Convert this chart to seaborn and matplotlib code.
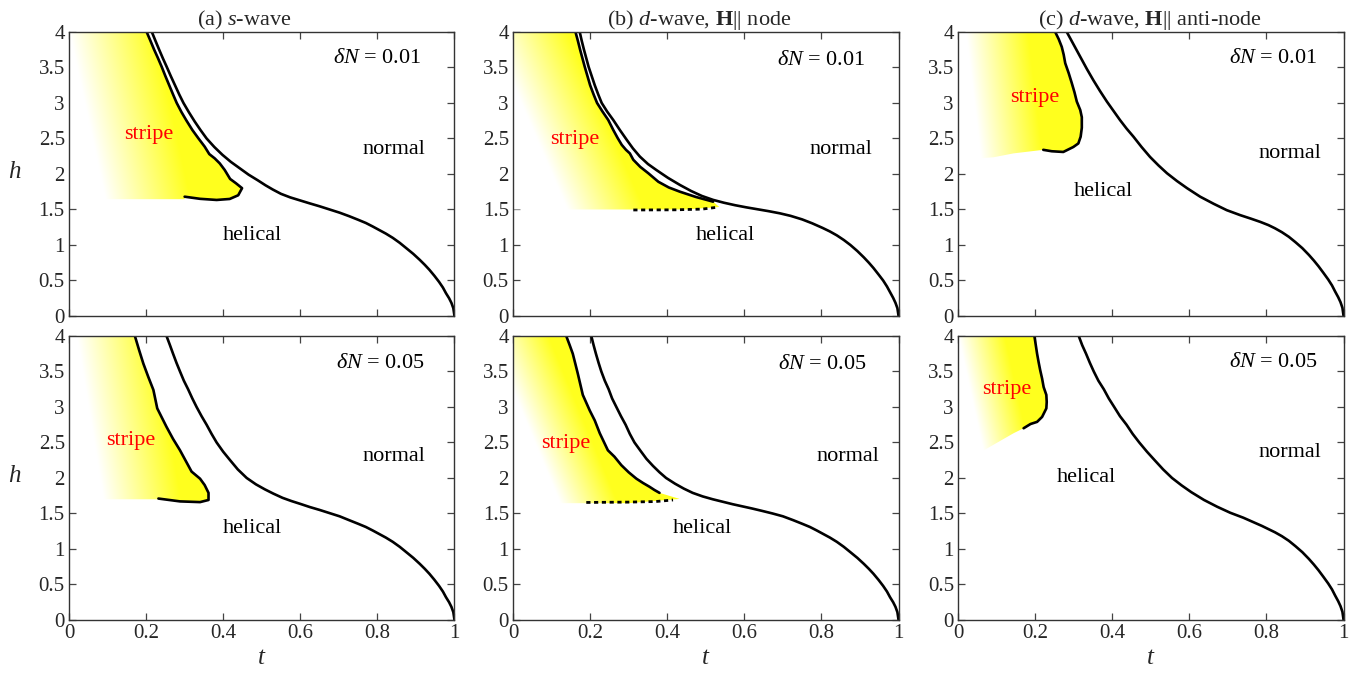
import numpy as np
import matplotlib
matplotlib.use("Agg")
import matplotlib.pyplot as plt
from matplotlib.patches import Polygon
import seaborn as sns

sns.set_theme(style="ticks")
plt.rcParams["font.family"] = ["Liberation Serif", "DejaVu Serif"]
plt.rcParams["mathtext.fontset"] = "custom"
plt.rcParams["mathtext.rm"] = "Liberation Serif"
plt.rcParams["mathtext.it"] = "Liberation Serif:italic"
plt.rcParams["mathtext.bf"] = "Liberation Serif:bold"

# ---------------- phase boundaries (t = T/Tc, h = normalised field) ----------------
# low-field part of the helical/normal line
ab_tail_t = [0.727, 0.750, 0.770, 0.788, 0.805, 0.822, 0.840, 0.858, 0.875, 0.893, 0.910,
             0.923, 0.935, 0.948, 0.960, 0.970, 0.978, 0.986, 0.992, 0.997, 1.0]
ab_tail_h = [1.405, 1.355, 1.31, 1.26, 1.21, 1.16, 1.10, 1.03, 0.955, 0.875, 0.79,
             0.72, 0.65, 0.565, 0.48, 0.40, 0.32, 0.25, 0.185, 0.11, 0.0]
b_tail_t = [0.720, 0.750, 0.776, 0.803, 0.822, 0.840, 0.858, 0.875, 0.893, 0.910, 0.923,
            0.935, 0.948, 0.960, 0.970, 0.978, 0.986, 0.992, 0.997, 1.0]
b_tail_h = [1.41, 1.36, 1.305, 1.24, 1.19, 1.135, 1.07, 1.0, 0.915, 0.825, 0.75,
            0.675, 0.585, 0.50, 0.415, 0.335, 0.255, 0.185, 0.11, 0.0]
c_tail_t = [0.805, 0.822, 0.840, 0.858, 0.875, 0.893, 0.910, 0.923, 0.935, 0.948, 0.960,
            0.970, 0.978, 0.986, 0.992, 0.997, 1.0]
c_tail_h = [1.28, 1.235, 1.18, 1.115, 1.04, 0.955, 0.86, 0.78, 0.70, 0.605, 0.515,
            0.43, 0.345, 0.265, 0.195, 0.115, 0.0]

# (a) s-wave, dN = 0.01
a1_normal_t = [0.215, 0.224, 0.234, 0.2435, 0.2535, 0.264, 0.275, 0.286, 0.297, 0.311, 0.326,
               0.341, 0.357, 0.377, 0.398, 0.420, 0.443, 0.466, 0.490, 0.510, 0.529, 0.550,
               0.574, 0.598, 0.625, 0.650, 0.676, 0.702] + ab_tail_t
a1_normal_h = [4.00, 3.88, 3.75, 3.63, 3.51, 3.38, 3.25, 3.12, 3.00, 2.87, 2.74,
               2.62, 2.50, 2.38, 2.27, 2.17, 2.08, 1.99, 1.91, 1.84, 1.78, 1.72,
               1.67, 1.63, 1.585, 1.545, 1.50, 1.455] + ab_tail_h
a1_stripe_t = [0.2016, 0.211, 0.221, 0.231, 0.2405, 0.250, 0.260, 0.270, 0.2795, 0.292, 0.305,
               0.320, 0.336, 0.352, 0.364, 0.378, 0.391, 0.404, 0.418, 0.433, 0.449, 0.439,
               0.417, 0.383, 0.340, 0.300]
a1_stripe_h = [4.0, 3.88, 3.75, 3.63, 3.51, 3.38, 3.25, 3.12, 3.0, 2.87, 2.75,
               2.62, 2.50, 2.385, 2.28, 2.22, 2.15, 2.056, 1.93, 1.87, 1.80, 1.70,
               1.648, 1.634, 1.65, 1.68]
a1_edge_t = [0.300, 0.0]
a1_edge_h = [1.645, 1.645]

# (a) s-wave, dN = 0.05
a5_normal_t = [0.253, 0.262, 0.270, 0.279, 0.288, 0.298, 0.309, 0.320, 0.331, 0.344, 0.357,
               0.370, 0.383, 0.400, 0.418, 0.438, 0.461, 0.485, 0.508, 0.530, 0.554, 0.577,
               0.600, 0.625, 0.650, 0.676, 0.702] + ab_tail_t
a5_normal_h = [4.00, 3.87, 3.75, 3.62, 3.50, 3.37, 3.25, 3.12, 3.00, 2.87, 2.75,
               2.62, 2.50, 2.37, 2.25, 2.12, 2.00, 1.91, 1.84, 1.78, 1.72, 1.675,
               1.635, 1.59, 1.55, 1.505, 1.46] + ab_tail_h
a5_stripe_t = [0.171, 0.182, 0.193, 0.206, 0.219, 0.224, 0.229, 0.241, 0.253, 0.270, 0.288,
               0.303, 0.318, 0.340, 0.352, 0.362, 0.362, 0.340, 0.288, 0.232]
a5_stripe_h = [4.0, 3.80, 3.61, 3.42, 3.24, 3.11, 2.98, 2.85, 2.72, 2.55, 2.39,
               2.24, 2.09, 1.99, 1.90, 1.79, 1.69, 1.66, 1.67, 1.71]
a5_edge_t = [0.232, 0.0]
a5_edge_h = [1.70, 1.70]

# (b) d-wave, H || node, dN = 0.01
b1_normal_t = [0.173, 0.178, 0.184, 0.190, 0.196, 0.204, 0.212, 0.221, 0.230, 0.244, 0.260,
               0.277, 0.295, 0.311, 0.329, 0.350, 0.372, 0.402, 0.433, 0.462, 0.490, 0.519,
               0.547, 0.576, 0.605, 0.634, 0.663, 0.692] + b_tail_t
b1_normal_h = [4.00, 3.88, 3.75, 3.63, 3.51, 3.38, 3.25, 3.12, 3.00, 2.88, 2.76,
               2.62, 2.48, 2.36, 2.245, 2.14, 2.055, 1.945, 1.845, 1.76, 1.69, 1.635,
               1.595, 1.56, 1.53, 1.503, 1.476, 1.446] + b_tail_h
b1_stripe_t = [0.162, 0.168, 0.174, 0.180, 0.186, 0.193, 0.200, 0.209, 0.218, 0.232, 0.247,
               0.260, 0.271, 0.282, 0.293, 0.303, 0.312, 0.330, 0.351, 0.377, 0.404, 0.433,
               0.475, 0.519]
b1_stripe_h = [4.00, 3.88, 3.75, 3.63, 3.51, 3.38, 3.25, 3.12, 3.00, 2.88, 2.76,
               2.62, 2.51, 2.41, 2.34, 2.29, 2.20, 2.10, 2.01, 1.89, 1.81, 1.75,
               1.675, 1.61]
b1_lower_t = [0.312, 0.420, 0.490, 0.528]
b1_lower_h = [1.493, 1.495, 1.505, 1.530]
b1_edge_t = [0.535, 0.450, 0.0]
b1_edge_h = [1.535, 1.500, 1.500]

# (b) d-wave, H || node, dN = 0.05
b5_normal_t = [0.203, 0.209, 0.215, 0.222, 0.229, 0.238, 0.248, 0.257, 0.268, 0.280, 0.292,
               0.303, 0.315, 0.331, 0.346, 0.363, 0.380, 0.397, 0.420, 0.443, 0.466, 0.492,
               0.518, 0.544, 0.570, 0.595, 0.620, 0.647, 0.673, 0.700] + ab_tail_t
b5_normal_h = [4.00, 3.87, 3.75, 3.62, 3.50, 3.37, 3.25, 3.12, 3.00, 2.87, 2.75,
               2.62, 2.50, 2.38, 2.27, 2.17, 2.08, 2.00, 1.92, 1.85, 1.79, 1.74,
               1.70, 1.665, 1.63, 1.60, 1.57, 1.535, 1.50, 1.46] + ab_tail_h
b5_stripe_t = [0.138, 0.147, 0.155, 0.162, 0.168, 0.181, 0.199, 0.212, 0.225, 0.246, 0.263,
               0.281, 0.300, 0.320, 0.337, 0.354, 0.367, 0.380]
b5_stripe_h = [4.0, 3.87, 3.75, 3.60, 3.47, 3.17, 2.95, 2.81, 2.63, 2.39, 2.30,
               2.18, 2.08, 1.99, 1.93, 1.876, 1.83, 1.79]
b5_lower_t = [0.190, 0.300, 0.370, 0.415]
b5_lower_h = [1.655, 1.660, 1.668, 1.690]
b5_edge_t = [0.432, 0.300, 0.0]
b5_edge_h = [1.705, 1.645, 1.645]

# (c) d-wave, H || anti-node, dN = 0.01
c1_normal_t = [0.282, 0.300, 0.317, 0.334, 0.351, 0.368, 0.386, 0.403, 0.420, 0.437, 0.455,
               0.476, 0.498, 0.520, 0.542, 0.568, 0.594, 0.628, 0.663, 0.697, 0.732, 0.760,
               0.784] + c_tail_t
c1_normal_h = [4.00, 3.82, 3.65, 3.48, 3.32, 3.17, 3.02, 2.89, 2.76, 2.64, 2.525,
               2.38, 2.24, 2.12, 2.01, 1.90, 1.80, 1.68, 1.58, 1.49, 1.42, 1.37,
               1.325] + c_tail_h
c1_stripe_t = [0.252, 0.261, 0.269, 0.274, 0.278, 0.287, 0.295, 0.302, 0.308, 0.317, 0.321,
               0.321, 0.318, 0.312, 0.299, 0.273, 0.243, 0.221]
c1_stripe_h = [4.0, 3.90, 3.79, 3.68, 3.56, 3.42, 3.28, 3.15, 3.02, 2.90, 2.80,
               2.65, 2.525, 2.43, 2.38, 2.31, 2.32, 2.34]
c1_edge_t = [0.144, 0.092, 0.0]
c1_edge_h = [2.29, 2.235, 2.20]

# (c) d-wave, H || anti-node, dN = 0.05
c5_normal_t = [0.313, 0.322, 0.332, 0.342, 0.352, 0.364, 0.378, 0.391, 0.405, 0.420, 0.437,
               0.453, 0.470, 0.490, 0.510, 0.532, 0.555, 0.580, 0.605, 0.638, 0.672, 0.706,
               0.740, 0.765, 0.788] + c_tail_t
c5_normal_h = [4.00, 3.87, 3.75, 3.62, 3.50, 3.37, 3.25, 3.12, 3.00, 2.87, 2.75,
               2.62, 2.50, 2.37, 2.25, 2.12, 2.00, 1.895, 1.80, 1.69, 1.595, 1.51,
               1.44, 1.38, 1.325] + c_tail_h
c5_stripe_t = [0.198, 0.205, 0.209, 0.213, 0.218, 0.222, 0.229, 0.230, 0.229, 0.218, 0.205,
               0.188, 0.170]
c5_stripe_h = [4.0, 3.75, 3.63, 3.52, 3.40, 3.28, 3.17, 3.07, 2.98, 2.86, 2.79,
               2.76, 2.70]
c5_edge_t = [0.144, 0.067, 0.0]
c5_edge_h = [2.63, 2.39, 2.33]

titles = [r"(a) $s$-wave", r"(b) $d$-wave, $\mathbf{H}$|| node",
          r"(c) $d$-wave, $\mathbf{H}$|| anti-node"]
dn_labels = [r"$\delta N$ = 0.01", r"$\delta N$ = 0.05"]
x_ticks = [0, 0.2, 0.4, 0.6, 0.8, 1]
x_ticklabels = ["0", "0.2", "0.4", "0.6", "0.8", "1"]
y_ticks = [0, 0.5, 1, 1.5, 2, 2.5, 3, 3.5, 4]
y_ticklabels = ["0", "0.5", "1", "1.5", "2", "2.5", "3", "3.5", "4"]

panels = {
    (0, 0): dict(nt=a1_normal_t, nh=a1_normal_h, st=a1_stripe_t, sh=a1_stripe_h,
                 et=a1_edge_t, eh=a1_edge_h, lt=None, lh=None),
    (1, 0): dict(nt=a5_normal_t, nh=a5_normal_h, st=a5_stripe_t, sh=a5_stripe_h,
                 et=a5_edge_t, eh=a5_edge_h, lt=None, lh=None),
    (0, 1): dict(nt=b1_normal_t, nh=b1_normal_h, st=b1_stripe_t, sh=b1_stripe_h,
                 et=b1_edge_t, eh=b1_edge_h, lt=b1_lower_t, lh=b1_lower_h),
    (1, 1): dict(nt=b5_normal_t, nh=b5_normal_h, st=b5_stripe_t, sh=b5_stripe_h,
                 et=b5_edge_t, eh=b5_edge_h, lt=b5_lower_t, lh=b5_lower_h),
    (0, 2): dict(nt=c1_normal_t, nh=c1_normal_h, st=c1_stripe_t, sh=c1_stripe_h,
                 et=c1_edge_t, eh=c1_edge_h, lt=None, lh=None),
    (1, 2): dict(nt=c5_normal_t, nh=c5_normal_h, st=c5_stripe_t, sh=c5_stripe_h,
                 et=c5_edge_t, eh=c5_edge_h, lt=None, lh=None),
}

# shading ramp of the stripe region: (white edge at top, slant, ramp width)
shade = {(0, 0): (0.00, 0.040, 0.22), (1, 0): (0.02, 0.030, 0.20),
         (0, 1): (-0.06, 0.080, 0.20), (1, 1): (-0.06, 0.077, 0.15),
         (0, 2): (0.02, 0.022, 0.16), (1, 2): (0.00, 0.040, 0.12)}

# label anchors (t, h): stripe, normal, helical, dN
label_pos = {
    (0, 0): [(0.207, 2.55), (0.843, 2.35), (0.475, 1.13), (0.80, 3.63)],
    (1, 0): [(0.161, 2.53), (0.844, 2.30), (0.476, 1.29), (0.807, 3.61)],
    (0, 1): [(0.160, 2.48), (0.850, 2.35), (0.550, 1.13), (0.800, 3.60)],
    (1, 1): [(0.136, 2.49), (0.868, 2.30), (0.490, 1.29), (0.803, 3.60)],
    (0, 2): [(0.199, 3.08), (0.862, 2.29), (0.376, 1.75), (0.818, 3.63)],
    (1, 2): [(0.127, 3.24), (0.862, 2.36), (0.332, 2.00), (0.817, 3.62)],
}
title_x = [0.454, 0.482, 0.498]

col_left = [0.0503, 0.3742, 0.6988]
row_bottom = [0.5305, 0.0788]
ax_w, ax_h = 0.2812, 0.422

yellow = np.array([1.0, 1.0, 0.12])
white = np.array([1.0, 1.0, 1.0])
tg, hg = np.meshgrid(np.linspace(0, 1, 500), np.linspace(0, 4, 500))

fig = plt.figure(figsize=(13.71, 6.73), dpi=100)
FS = 16

for (r, c), p in panels.items():
    ax = fig.add_axes([col_left[c], row_bottom[r], ax_w, ax_h])
    ax.set_xlim(0, 1)
    ax.set_ylim(0, 4)

    # gradient shading of the stripe phase, clipped to its boundary
    t0, k, w = shade[(r, c)]
    g = np.clip((tg - (t0 + k * (4 - hg))) / w, 0, 1)[..., None]
    rgb = white * (1 - g) + yellow * g
    img = ax.imshow(rgb, extent=[0, 1, 0, 4], origin="lower", aspect="auto",
                    interpolation="bilinear", zorder=1)
    verts = [(0, 4)] + list(zip(p["st"], p["sh"])) + list(zip(p["et"], p["eh"]))
    clip = Polygon(verts, closed=True, transform=ax.transData)
    img.set_clip_path(clip)

    sns.lineplot(x=p["nt"], y=p["nh"], ax=ax, sort=False, estimator=None,
                 color="black", linewidth=1.9, zorder=3)
    sns.lineplot(x=p["st"], y=p["sh"], ax=ax, sort=False, estimator=None,
                 color="black", linewidth=1.9, zorder=3)
    if p["lt"] is not None:
        sns.lineplot(x=p["lt"], y=p["lh"], ax=ax, sort=False, estimator=None,
                     color="black", linewidth=2.0, linestyle=(0, (1.5, 1.3)), zorder=3)

    pos = label_pos[(r, c)]
    ax.text(*pos[0], "stripe", color="red", ha="center", va="center", fontsize=FS, zorder=4)
    ax.text(*pos[1], "normal", color="black", ha="center", va="center", fontsize=FS, zorder=4)
    ax.text(*pos[2], "helical", color="black", ha="center", va="center", fontsize=FS, zorder=4)
    ax.text(*pos[3], dn_labels[r], color="black", ha="center", va="center", fontsize=FS, zorder=4)

    ax.set_xticks(x_ticks)
    ax.set_yticks(y_ticks)
    ax.set_yticklabels(y_ticklabels)
    if r == 1:
        ax.set_xticklabels(x_ticklabels)
        ax.set_xlabel(r"$t$", fontsize=18)
        ax.xaxis.set_label_coords(0.5, -0.095)
    else:
        ax.set_xticklabels([])
        ax.set_title(titles[c], fontsize=FS, pad=5, x=title_x[c])
    if c == 0:
        ax.set_ylabel(r"$h$", fontsize=18, rotation=0, va="center")
        ax.yaxis.set_label_coords(-0.14, 0.507)
    else:
        ax.set_ylabel("")

    ax.tick_params(direction="in", top=True, right=True, length=5, width=0.9,
                   color="#444444", labelsize=15, pad=3)
    for s in ax.spines.values():
        s.set_color("#333333")
        s.set_linewidth(1.0)
        s.set_zorder(5)

fig.savefig("out.png", dpi=100)
